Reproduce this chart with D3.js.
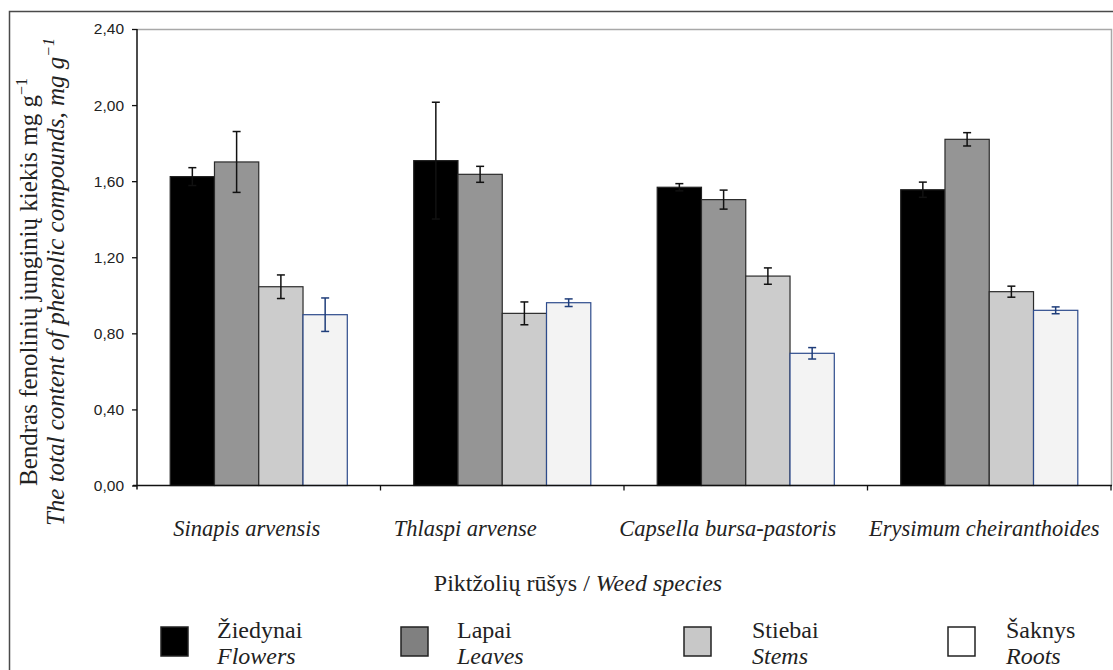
<!DOCTYPE html>
<html>
<head>
<meta charset="utf-8">
<script src="https://cdn.jsdelivr.net/npm/d3@7/dist/d3.min.js"></script>
<style>
  html, body { margin: 0; padding: 0; background: #fff; }
  svg { display: block; }
  .serif { font-family: "Liberation Serif", "Times New Roman", serif; }
  .tick text { font-family: "Liberation Sans", Arial, sans-serif; font-size: 15.5px; fill: #222; }
</style>
</head>
<body>
<svg id="chart" width="1113" height="670"></svg>
<script>
// Weed species (x categories)
const categories = ["Sinapis arvensis", "Thlaspi arvense", "Capsella bursa-pastoris", "Erysimum cheiranthoides"];
// Plant parts (series)
const seriesLt = ["Žiedynai", "Lapai", "Stiebai", "Šaknys"];
const seriesEn = ["Flowers", "Leaves", "Stems", "Roots"];
// Total phenolic content, mg g-1, per species for each plant part
const flowers = [1.624, 1.708, 1.568, 1.555];
const leaves  = [1.701, 1.636, 1.503, 1.820];
const stems   = [1.045, 0.905, 1.101, 1.019];
const roots   = [0.898, 0.961, 0.695, 0.921];
// Error bar half-lengths
const flowersErr = [0.047, 0.307, 0.019, 0.040];
const leavesErr  = [0.160, 0.042, 0.050, 0.035];
const stemsErr   = [0.062, 0.060, 0.043, 0.029];
const rootsErr   = [0.088, 0.020, 0.030, 0.018];
// Y axis ticks
const yTicks = [0, 0.4, 0.8, 1.2, 1.6, 2.0, 2.4];

const values = [flowers, leaves, stems, roots];
const errors = [flowersErr, leavesErr, stemsErr, rootsErr];

const fills   = ["#000000", "#959595", "#cccccc", "#f3f3f3"];
const strokes = ["#222222", "#2b2b2b", "#2b2b2b", "#2d4b8c"];
const errCol  = ["#111111", "#111111", "#111111", "#1f3d7a"];
const legendFills = ["#000000", "#808080", "#c8c8c8", "#ffffff"];

const svg = d3.select("#chart");

// outer frame
svg.append("rect")
  .attr("x", 9.5).attr("y", 11.5).attr("width", 1200).attr("height", 700)
  .attr("fill", "none").attr("stroke", "#4a4a4a").attr("stroke-width", 1.5);

const plot = { left: 137, right: 1111, top: 29, bottom: 485.5 };

const x0 = d3.scaleBand().domain(categories).range([plot.left, plot.right]).padding(0);
const x1 = d3.scaleBand().domain(d3.range(4)).range([0, x0.bandwidth()])
  .paddingInner(0).paddingOuter(0.75);
const y = d3.scaleLinear().domain([0, 2.4]).range([plot.bottom, plot.top]);

// plot area border (top and right)
svg.append("path")
  .attr("d", `M${plot.left},${plot.top + 0.5}H${plot.right + 0.5}V${plot.bottom}`)
  .attr("fill", "none").attr("stroke", "#a8a8a8").attr("stroke-width", 1.5);

// bars
const groups = svg.append("g").selectAll("g")
  .data(categories).join("g")
  .attr("transform", d => `translate(${x0(d)},0)`);

groups.each(function(cat, ci) {
  const g = d3.select(this);
  values.forEach((arr, si) => {
    const v = arr[ci];
    g.append("rect")
      .attr("x", x1(si)).attr("width", x1.bandwidth())
      .attr("y", y(v)).attr("height", y(0) - y(v))
      .attr("fill", fills[si]).attr("stroke", strokes[si]).attr("stroke-width", 1.2);
  });
  values.forEach((arr, si) => {
    const v = arr[ci], e = errors[si][ci];
    const cx = x1(si) + x1.bandwidth() / 2;
    const eg = g.append("g").attr("stroke", errCol[si]).attr("stroke-width", 1.5);
    eg.append("line").attr("x1", cx).attr("x2", cx).attr("y1", y(v - e)).attr("y2", y(v + e));
    eg.append("line").attr("x1", cx - 4).attr("x2", cx + 4).attr("y1", y(v + e)).attr("y2", y(v + e));
    eg.append("line").attr("x1", cx - 4).attr("x2", cx + 4).attr("y1", y(v - e)).attr("y2", y(v - e));
  });
});

// y axis
const yAxis = svg.append("g")
  .attr("transform", `translate(${plot.left},0)`)
  .call(d3.axisLeft(y).tickValues(yTicks).tickSize(5).tickPadding(8)
    .tickFormat(d => d3.format(".2f")(d).replace(".", ",")));
yAxis.select(".domain").attr("stroke", "#111").attr("stroke-width", 1.5)
  .attr("d", `M0,${plot.top}V${plot.bottom + 4}`);
yAxis.selectAll(".tick line").attr("stroke", "#111").attr("stroke-width", 1.3);

// x axis with ticks at category boundaries
const xAxis = svg.append("g").attr("transform", `translate(0,${plot.bottom})`);
xAxis.append("line").attr("x1", plot.left - 4).attr("x2", plot.right + 1)
  .attr("stroke", "#111").attr("stroke-width", 1.5);
const bounds = categories.map(c => x0(c) + x0.bandwidth());
xAxis.selectAll("line.tk").data(bounds).join("line").attr("class", "tk")
  .attr("x1", d => d).attr("x2", d => d).attr("y1", 0).attr("y2", 5)
  .attr("stroke", "#111").attr("stroke-width", 1.3);

// species labels
const labelShift = [-12, -37, -18, -5];
svg.append("g").selectAll("text").data(categories).join("text")
  .attr("class", "serif")
  .attr("x", (d, i) => x0(d) + x0.bandwidth() / 2 + labelShift[i])
  .attr("y", 536)
  .attr("text-anchor", "middle")
  .attr("font-size", 22.5).attr("font-style", "italic").attr("fill", "#222")
  .text(d => d);

// x axis title
const xt = svg.append("text").attr("class", "serif")
  .attr("x", 578).attr("y", 591).attr("text-anchor", "middle")
  .attr("font-size", 24).attr("fill", "#222");
xt.append("tspan").text("Piktžolių rūšys / ");
xt.append("tspan").attr("font-style", "italic").text("Weed species");

// y axis title (two lines, rotated)
const yt = svg.append("g").attr("transform", "translate(0,282) rotate(-90)");
const l1 = yt.append("text").attr("class", "serif").attr("x", 0).attr("y", 37)
  .attr("text-anchor", "middle").attr("font-size", 25).attr("fill", "#222");
l1.append("tspan").text("Bendras fenolinių junginių kiekis mg g");
l1.append("tspan").attr("dy", -10).attr("font-size", 16).text("−1");
const l2 = yt.append("text").attr("class", "serif").attr("x", 0).attr("y", 64)
  .attr("text-anchor", "middle").attr("font-size", 25).attr("fill", "#222")
  .attr("font-style", "italic");
l2.append("tspan").text("The total content of phenolic compounds, mg g");
l2.append("tspan").attr("dy", -10).attr("font-size", 16).text("−1");

// legend
const swatchX = [161, 401, 684, 948];
const textX = [217, 457, 752, 1006];
const leg = svg.append("g").selectAll("g").data(seriesLt).join("g");
leg.append("rect")
  .attr("x", (d, i) => swatchX[i]).attr("y", 627).attr("width", 27).attr("height", 29)
  .attr("fill", (d, i) => legendFills[i]).attr("stroke", "#222").attr("stroke-width", 1.5);
leg.append("text").attr("class", "serif")
  .attr("x", (d, i) => textX[i]).attr("y", 638)
  .attr("font-size", 24).attr("fill", "#222").text(d => d);
leg.append("text").attr("class", "serif")
  .attr("x", (d, i) => textX[i]).attr("y", 664)
  .attr("font-size", 24).attr("font-style", "italic").attr("fill", "#222")
  .text((d, i) => seriesEn[i]);
</script>
</body>
</html>
